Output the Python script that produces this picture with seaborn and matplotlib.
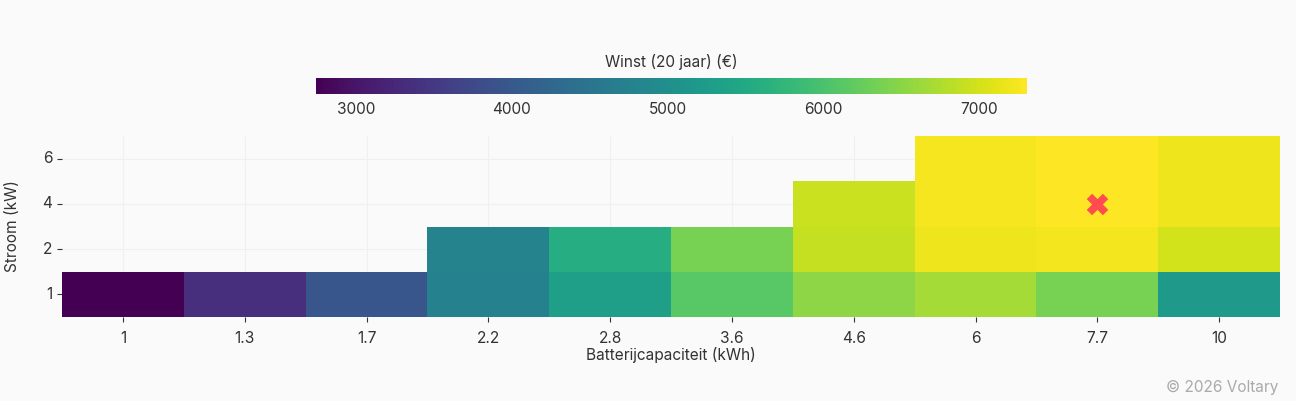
import numpy as np
import pandas as pd
import matplotlib.pyplot as plt
import seaborn as sns

# Grid values
capacities = ['1', '1.3', '1.7', '2.2', '2.8', '3.6', '4.6', '6', '7.7', '10']
currents = ['6', '4', '2', '1']
winst_6kw = [np.nan, np.nan, np.nan, np.nan, np.nan, np.nan, np.nan, 7240, 7300, 7185]
winst_4kw = [np.nan, np.nan, np.nan, np.nan, np.nan, np.nan, 6950, 7240, 7308, 7185]
winst_2kw = [np.nan, np.nan, np.nan, 4790, 5570, 6370, 6900, 7195, 7220, 7000]
winst_1kw = [2745, 3350, 3960, 4730, 5300, 6120, 6530, 6690, 6370, 5210]
cbar_ticks = [3000, 4000, 5000, 6000, 7000]

W, H = 1296, 401
BG = '#fafafa'
TEXT = '#333333'
FONT = 11.1

sns.set_theme(style='white')
plt.rcParams['font.family'] = ['Inter', 'DejaVu Sans']

df = pd.DataFrame([winst_6kw, winst_4kw, winst_2kw, winst_1kw], index=currents, columns=capacities)

fig = plt.figure(figsize=(W / 100, H / 100), dpi=100, facecolor=BG)
ax = fig.add_axes([62 / W, 1 - 317 / H, 1218 / W, 181 / H], facecolor=BG)
cax = fig.add_axes([316 / W, 1 - 94 / H, 711 / W, 16 / H])

sns.heatmap(df, ax=ax, cmap='viridis', vmin=2743, vmax=7308, cbar_ax=cax,
            cbar_kws={'orientation': 'horizontal'}, linewidths=0)

# Light grid shows through where there are no cells
ax.set_axisbelow(True)
ax.grid(True, color='#f0f0f0', linewidth=0.8)

ax.tick_params(axis='both', bottom=True, left=True, length=3.6, width=0.8, color='#333333',
               labelcolor=TEXT, labelsize=FONT)
ax.tick_params(axis='y', labelrotation=0, pad=3.5)
ax.tick_params(axis='x', labelrotation=0, pad=6.4)
ax.set_xlabel('Batterijcapaciteit (kWh)', fontsize=FONT, color=TEXT, labelpad=1)
ax.set_ylabel('Stroom (kW)', fontsize=FONT, color=TEXT, labelpad=16)

# Best combination
best_row, best_col = np.unravel_index(np.nanargmax(df.values), df.shape)
ax.scatter([best_col + 0.5], [best_row + 0.5], marker='X', s=240, color='#ff4d4f', linewidths=0, zorder=5)

cbar = ax.collections[0].colorbar
cbar.set_ticks(cbar_ticks)
cbar.outline.set_visible(False)
cax.tick_params(length=0, labelsize=FONT, labelcolor=TEXT, pad=6)
cax.set_title('Winst (20 jaar) (€)', fontsize=FONT, color=TEXT, pad=8)

fig.text(1278 / W, 1 - 387 / H, '© 2026 Voltary', ha='right', va='center', fontsize=11.1, color='#aaaaaa')

fig.savefig('out.png', dpi=100, facecolor=BG)
